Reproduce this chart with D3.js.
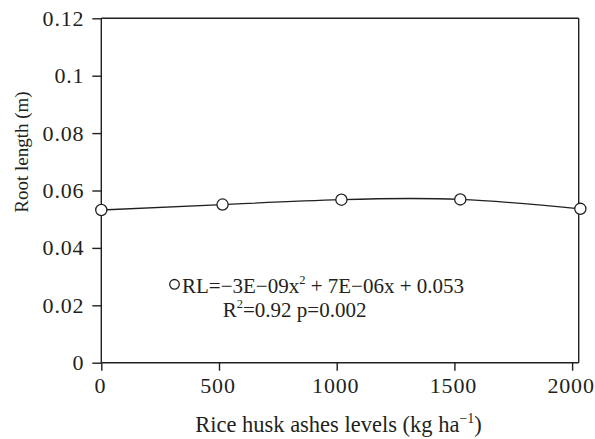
<!DOCTYPE html>
<html>
<head>
<meta charset="utf-8">
<script src="https://cdn.jsdelivr.net/npm/d3@7"></script>
<style>
html,body{margin:0;padding:0;background:#fff;}
svg{display:block;}
text{font-family:"Liberation Serif","Times New Roman",serif;fill:#231f20;}
</style>
</head>
<body>
<svg id="chart" width="595" height="439"></svg>
<script>
// Data
const levels = [0, 515, 1020, 1525, 2035];            // Rice husk ashes levels (kg ha-1)
const rootLength = [0.0532, 0.0551, 0.0568, 0.0569, 0.0536]; // Root length (m)
const xTicks = [0, 500, 1000, 1500, 2000];
const yTicks = [0, 0.02, 0.04, 0.06, 0.08, 0.1, 0.12];
const yTickLabels = ["0", "0.02", "0.04", "0.06", "0.08", "0.1", "0.12"];

const svg = d3.select("#chart");
const mLeft = 101.3, mRight = 578.7, mTop = 18.3, mBottom = 362.7;

const x = d3.scaleLinear().domain([0, 2028]).range([mLeft, mRight]);
const y = d3.scaleLinear().domain([0, 0.12]).range([mBottom, mTop]);

const ink = "#231f20";

// frame (top and right)
svg.append("line").attr("x1", mLeft).attr("x2", mRight).attr("y1", mTop).attr("y2", mTop)
  .attr("stroke", ink).attr("stroke-width", 1.4);
svg.append("line").attr("x1", mRight).attr("x2", mRight).attr("y1", mTop).attr("y2", mBottom)
  .attr("stroke", ink).attr("stroke-width", 1.4);

// x axis
const xAxis = d3.axisBottom(x).tickValues(xTicks).tickSize(8).tickPadding(7).tickFormat(d3.format("d"));
const gx = svg.append("g").attr("transform", `translate(0,${mBottom})`).call(xAxis)
  .attr("font-family", null).attr("font-size", null);
gx.select(".domain").attr("stroke", ink).attr("stroke-width", 1.4).attr("d", `M${mLeft},0H${mRight}`);
gx.selectAll(".tick line").attr("stroke", ink).attr("stroke-width", 1.4);
gx.selectAll(".tick text").attr("font-size", 22).attr("fill", ink)
  .attr("letter-spacing", 0.8).attr("dx", -1.5);

// y axis
const yAxis = d3.axisLeft(y).tickValues(yTicks).tickSize(9).tickPadding(8)
  .tickFormat((d, i) => yTickLabels[i]);
const gy = svg.append("g").attr("transform", `translate(${mLeft},0)`).call(yAxis)
  .attr("font-family", null).attr("font-size", null);
gy.select(".domain").attr("stroke", ink).attr("stroke-width", 1.4).attr("d", `M0,${mBottom}V${mTop}`);
gy.selectAll(".tick line").attr("stroke", ink).attr("stroke-width", 1.4);
gy.selectAll(".tick text").attr("font-size", 22).attr("fill", ink)
  .attr("letter-spacing", 0.8);

// line through points
const line = d3.line().x((d, i) => x(levels[i])).y(d => y(d)).curve(d3.curveNatural);
svg.append("path").datum(rootLength).attr("d", line)
  .attr("fill", "none").attr("stroke", ink).attr("stroke-width", 1.3);

// points
svg.selectAll("circle.pt").data(rootLength).enter().append("circle")
  .attr("class", "pt")
  .attr("cx", (d, i) => x(levels[i])).attr("cy", d => y(d)).attr("r", 5.6)
  .attr("fill", "#fff").attr("stroke", ink).attr("stroke-width", 1.3);

// legend / equation
svg.append("circle").attr("cx", 174.5).attr("cy", 284.3).attr("r", 4.8)
  .attr("fill", "#fff").attr("stroke", ink).attr("stroke-width", 1.3);

const eq1 = svg.append("text").attr("x", 182).attr("y", 292.5).attr("font-size", 21);
eq1.append("tspan").text("RL=−3E−09x");
eq1.append("tspan").attr("font-size", 12.5).attr("dy", -8.5).text("2");
eq1.append("tspan").attr("dy", 8.5).text(" + 7E−06x + 0.053");

const eq2 = svg.append("text").attr("x", 222.7).attr("y", 316.5).attr("font-size", 21);
eq2.append("tspan").text("R");
eq2.append("tspan").attr("font-size", 12.5).attr("dy", -8.5).text("2");
eq2.append("tspan").attr("dy", 8.5).text("=0.92 p=0.002");

// axis titles
const xt = svg.append("text").attr("x", 338.5).attr("y", 431.5).attr("text-anchor", "middle").attr("font-size", 22.5);
xt.append("tspan").text("Rice husk ashes levels (kg ha");
xt.append("tspan").attr("font-size", 14).attr("dy", -9).text("−1");
xt.append("tspan").attr("dy", 9).text(")");

svg.append("text").attr("transform", "translate(28,152) rotate(-90)")
  .attr("text-anchor", "middle").attr("font-size", 19).text("Root length (m)");
</script>
</body>
</html>
